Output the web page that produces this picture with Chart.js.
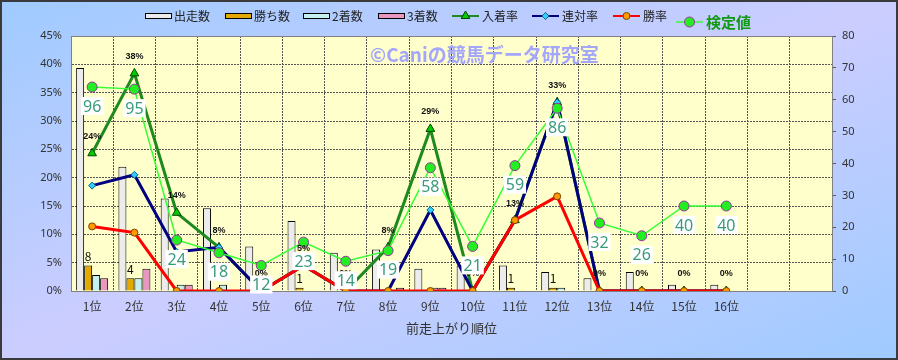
<!DOCTYPE html>
<html>
<head>
<meta charset="utf-8">
<script src="https://cdn.jsdelivr.net/npm/chart.js@4.4.1/dist/chart.umd.min.js"></script>
<style>
  html, body { margin: 0; padding: 0; }
  #wrap {
    width: 898px; height: 360px; position: relative;
    background: linear-gradient(158deg, #9fcbff 0%, #cccdff 50%, #9fcbff 100%);
  }
</style>
</head>
<body>
<div id="wrap"><canvas id="myChart"></canvas></div>
<script>
// categories (two empty slots at the right end, as in the original)
var categories = ["1位", "2位", "3位", "4位", "5位", "6位", "7位", "8位", "9位", "10位",
  "11位", "12位", "13位", "14位", "15位", "16位", "", ""];

// counts (right axis)
var runs    = [70, 39, 29, 26, 14, 22, 12, 13, 7, 8, 8, 6, 4, 6, 2, 2];
var wins    = [8, 4, 0, 0, 0, 1, 0, 0, 0, 0, 1, 1, 0, 0, 0, 0];
var seconds = [5, 4, 2, 2, 0, 0, 0, 0, 1, 0, 0, 1, 0, 0, 0, 0];
var thirds  = [4, 7, 2, 0, 0, 0, 0, 1, 1, 0, 0, 0, 0, 0, 0, 0];

// rates in % (left axis)
var placeRate    = [24.3, 38.4, 13.8, 7.7, 0, 4.5, 0, 7.7, 28.6, 0, 12.5, 33.3, 0, 0, 0, 0];
var quinellaRate = [18.6, 20.5, 6.9, 7.7, 0, 4.5, 0, 0, 14.3, 0, 12.5, 33.3, 0, 0, 0, 0];
var winRate      = [11.4, 10.3, 0, 0, 0, 4.5, 0, 0, 0, 0, 12.5, 16.7, 0, 0, 0, 0];

// 検定値 (own hidden scale 0-120)
var testValue = [96, 95, 24, 18, 12, 23, 14, 19, 58, 21, 59, 86, 32, 26, 40, 40];

// tick settings
var leftTicks = { min: 0, max: 45, step: 5 };
var rightTicks = { min: 0, max: 80, step: 10 };
var xTitle = "前走上がり順位";
var watermark = "©Caniの競馬データ研究室";

var jp = '"Noto Sans CJK JP", "Noto Sans", sans-serif';

// extra drawing: plot background, labels, legend, watermark
var decor = {
  id: "decor",
  beforeDraw: function (chart) {
    var c = chart.ctx, a = chart.chartArea;
    c.save();
    c.fillStyle = "#ffffcc";
    c.fillRect(a.left, a.top, a.right - a.left, a.bottom - a.top);
    c.restore();
  },
  beforeDatasetsDraw: function (chart) {
    var c = chart.ctx, a = chart.chartArea;
    c.save();
    c.strokeStyle = "#808080";
    c.lineWidth = 1;
    c.beginPath();
    c.moveTo(a.left, a.top + 0.5);
    c.lineTo(a.right, a.top + 0.5);
    c.stroke();
    c.font = "bold 19px " + jp;
    c.fillStyle = "#a4a6fa";
    c.textBaseline = "middle";
    c.textAlign = "left";
    c.fillText(watermark, 370, 55);
    c.restore();
  },
  afterDatasetsDraw: function (chart) {
    var c = chart.ctx;
    c.save();
    // 勝ち数 labels
    var mWin = chart.getDatasetMeta(1);
    c.font = "12px " + jp;
    c.fillStyle = "#111";
    c.textAlign = "center";
    c.textBaseline = "bottom";
    wins.forEach(function (v, i) {
      if (!v) return;
      var el = mWin.data[i];
      c.fillText(String(v), el.x, el.y - 3);
    });
    // 入着率 labels
    var mPlace = chart.getDatasetMeta(4);
    c.font = 'bold 9px "Liberation Sans", sans-serif';
    c.textBaseline = "middle";
    placeRate.forEach(function (v, i) {
      var el = mPlace.data[i];
      c.fillText(Math.round(v) + "%", el.x, el.y - 17);
    });
    // 検定値 labels
    var mTest = chart.getDatasetMeta(7);
    c.font = '16px "Noto Sans", sans-serif';
    testValue.forEach(function (v, i) {
      var el = mTest.data[i];
      var t = String(v), w = c.measureText(t).width + 4;
      var y = el.y + 19;
      c.fillStyle = "#ffffff";
      c.fillRect(el.x - w / 2, y - 9, w, 18);
      c.fillStyle = "#3a9a7c";
      c.fillText(t, el.x, y + 1);
    });
    c.restore();
  },
  afterDraw: function (chart) {
    var c = chart.ctx;
    var H = Chart.helpers;
    c.save();
    c.textBaseline = "middle";
    c.textAlign = "left";
    var ly = 16;
    // bar items
    var bars = [
      { x: 145, ds: 0 }, { x: 225, ds: 1 }, { x: 303, ds: 2 }, { x: 378, ds: 3 }
    ];
    c.font = "12px " + jp;
    bars.forEach(function (b) {
      var d = chart.data.datasets[b.ds];
      c.fillStyle = d.backgroundColor;
      c.fillRect(b.x, ly - 3, 27, 6);
      c.strokeStyle = "#000";
      c.lineWidth = 1;
      c.strokeRect(b.x + 0.5, ly - 2.5, 26, 5);
      c.fillStyle = "#222";
      c.fillText(d.label, b.x + 29, ly);
    });
    // line items
    var lines = [
      { x: 452, ds: 4, y: ly }, { x: 532, ds: 5, y: ly }, { x: 613, ds: 6, y: ly }, { x: 676, ds: 7, y: 22 }
    ];
    lines.forEach(function (l) {
      var d = chart.data.datasets[l.ds];
      c.strokeStyle = d.borderColor;
      c.lineWidth = l.ds === 7 ? 1.5 : 2;
      c.beginPath();
      c.moveTo(l.x, l.y);
      c.lineTo(l.x + 27, l.y);
      c.stroke();
      c.fillStyle = d.pointBackgroundColor;
      c.strokeStyle = d.pointBorderColor;
      c.lineWidth = d.pointBorderWidth;
      H.drawPoint(c, { pointStyle: d.pointStyle, radius: d.pointRadius, rotation: 0, borderWidth: d.pointBorderWidth }, l.x + 13.5, l.y);
      if (l.ds === 7) {
        c.font = "bold 15px " + jp;
        c.fillStyle = "#119911";
      } else {
        c.font = "12px " + jp;
        c.fillStyle = "#222";
      }
      c.fillText(d.label, l.x + 30, l.y);
    });
    // outer frame
    c.strokeStyle = "#3a3a3a";
    c.lineWidth = 2;
    c.strokeRect(1, 1, 896, 358);
    c.restore();
  }
};

var ctx = document.getElementById("myChart").getContext("2d");

var myChart = new Chart(ctx, {
  type: "bar",
  data: {
    labels: categories,
    datasets: [
      { label: "出走数", data: runs, yAxisID: "yR", backgroundColor: "#ececec", borderColor: "#000", borderWidth: 1, order: 10 },
      { label: "勝ち数", data: wins, yAxisID: "yR", backgroundColor: "#e2aa00", borderColor: "#000", borderWidth: 1, order: 10 },
      { label: "2着数", data: seconds, yAxisID: "yR", backgroundColor: "#c4f0f0", borderColor: "#000", borderWidth: 1, order: 10 },
      { label: "3着数", data: thirds, yAxisID: "yR", backgroundColor: "#e898c0", borderColor: "#000", borderWidth: 1, order: 10 },
      {
        type: "line", label: "入着率", data: placeRate, yAxisID: "yL",
        borderColor: "#1e8a1e", borderWidth: 3, tension: 0,
        pointStyle: "triangle", pointRadius: 5, pointBackgroundColor: "#00cc00",
        pointBorderColor: "#004400", pointBorderWidth: 1, order: 4
      },
      {
        type: "line", label: "連対率", data: quinellaRate, yAxisID: "yL",
        borderColor: "#000080", borderWidth: 3, tension: 0,
        pointStyle: "rectRot", pointRadius: 3.5, pointBackgroundColor: "#33ccff",
        pointBorderColor: "#006688", pointBorderWidth: 1, order: 3
      },
      {
        type: "line", label: "勝率", data: winRate, yAxisID: "yL",
        borderColor: "#ff0000", borderWidth: 3, tension: 0,
        pointStyle: "circle", pointRadius: 3.5, pointBackgroundColor: "#ff9900",
        pointBorderColor: "#804000", pointBorderWidth: 1, order: 2
      },
      {
        type: "line", label: "検定値", data: testValue, yAxisID: "yK",
        borderColor: "#33ff33", borderWidth: 1.5, tension: 0,
        pointStyle: "circle", pointRadius: 5, pointBackgroundColor: "#22ee22",
        pointBorderColor: "#993399", pointBorderWidth: 1, order: 1
      }
    ]
  },
  options: {
    responsive: true,
    maintainAspectRatio: false,
    animation: false,
    layout: { padding: { top: 36, left: 0, right: 0, bottom: 0 } },
    datasets: { bar: { categoryPercentage: 0.757, barPercentage: 1 } },
    plugins: { legend: { display: false }, tooltip: { enabled: false } },
    scales: {
      x: {
        grid: { offset: true, color: "#555", drawTicks: false },
        border: { color: "#808080", dash: [2, 1] },
        ticks: { padding: 8, color: "#333", font: { size: 12, family: jp }, autoSkip: false, maxRotation: 0 },
        title: { display: true, text: xTitle, color: "#333", font: { size: 13, family: jp }, padding: { top: 0, bottom: 24 } },
        afterFit: function (s) { s.height = 69; }
      },
      yL: {
        position: "left",
        min: leftTicks.min, max: leftTicks.max,
        ticks: { stepSize: leftTicks.step, padding: 9, color: "#333", font: { size: 11, family: '"Noto Sans", sans-serif' },
          callback: function (v) { return v + "%"; } },
        grid: { color: "#555", drawTicks: false },
        border: { color: "#808080", dash: [2, 1] },
        afterFit: function (s) { s.width = 71; }
      },
      yR: {
        position: "right",
        min: rightTicks.min, max: rightTicks.max,
        ticks: { stepSize: rightTicks.step, padding: 6, color: "#333", font: { size: 11, family: '"Noto Sans", sans-serif' } },
        grid: { drawOnChartArea: false, tickLength: 4, color: "#555" },
        border: { color: "#808080" },
        afterFit: function (s) { s.width = 66; }
      },
      yK: { display: false, min: 0, max: 120 }
    }
  },
  plugins: [decor]
});
</script>
</body>
</html>
